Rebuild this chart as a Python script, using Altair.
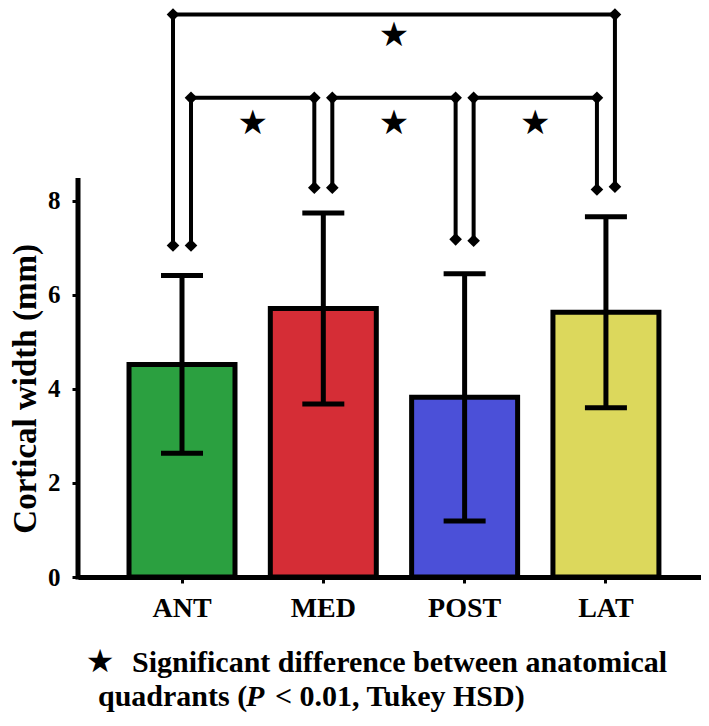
import altair as alt
import pandas as pd

# ---------------- data ----------------
quadrants = ["ANT", "MED", "POST", "LAT"]
mean_width = [4.52, 5.71, 3.82, 5.63]
sd_width = [1.89, 2.03, 2.63, 2.03]
bar_colors = ["#2ba040", "#d52d36", "#4b50d8", "#dcd85c"]

# Tukey HSD comparison brackets
cmp_left = ["ANT", "ANT", "MED", "POST"]
cmp_right = ["LAT", "MED", "POST", "LAT"]
cmp_level = [11.96, 10.19, 10.19, 10.19]
cmp_left_end = [7.05, 7.05, 8.28, 7.15]
cmp_right_end = [8.30, 8.28, 7.18, 8.24]
cmp_outer = [True, False, False, False]
cmp_star_anchor = ["MED", "ANT", "MED", "POST"]
cmp_star_y = [11.51, 9.64, 9.64, 9.64]

y_ticks = [0, 2, 4, 6, 8]
y_max = 12.1
axis_top = 8.43
y_title = "Cortical width (mm)"
y_title_at = 4.0
note_line1 = "Significant difference between anatomical"
note_line2a = "quadrants ("
note_line2b = "P"
note_line2c = "< 0.01, Tukey HSD)"

# ---------------- tables ----------------
bars_df = pd.DataFrame({"quadrant": quadrants, "mean": mean_width, "sd": sd_width})
cmp_df = pd.DataFrame({
    "left": cmp_left, "right": cmp_right, "level": cmp_level,
    "left_end": cmp_left_end, "right_end": cmp_right_end, "outer": cmp_outer,
})
star_df = pd.DataFrame({"anchor": cmp_star_anchor, "y": cmp_star_y, "s": ["★"] * 4})

FONT = "Liberation Serif, Times New Roman, serif"
STAR_FONT = "DejaVu Sans"
W, H = 623, 569
GAP = 9            # px offset of bracket legs from bar centre
HALF_STEP = 70.65  # px, half the band step (stars sit between bars)

x_scale = alt.Scale(domain=quadrants, paddingInner=0.25, paddingOuter=0.3294, align=0.548)
x_axis = alt.Axis(title=None, orient="bottom", labelAngle=0, labelFont=FONT,
                  labelFontWeight="bold", labelFontSize=28, labelColor="black",
                  labelPadding=11, domainColor="black", domainWidth=5,
                  tickColor="black", tickWidth=3, tickSize=6, grid=False)
y_scale = alt.Scale(domain=[0, y_max], nice=False, zero=True)
y_axis = alt.Axis(title=None, orient="left", values=y_ticks, domain=False, grid=False,
                  tickColor="black", tickWidth=3, tickSize=6, labelFont=FONT,
                  labelFontWeight="bold", labelFontSize=25, labelColor="black",
                  labelPadding=12)


def X(f):
    return alt.X(f"{f}:N", scale=x_scale, axis=x_axis)


def Y(f):
    return alt.Y(f"{f}:Q", scale=y_scale, axis=y_axis)


bars = alt.Chart(bars_df).mark_bar(stroke="black", strokeWidth=5).encode(
    x=X("quadrant"), y=Y("mean"),
    color=alt.Color("quadrant:N", scale=alt.Scale(domain=quadrants, range=bar_colors), legend=None),
)

err_base = alt.Chart(bars_df).transform_calculate(
    lo="datum.mean - datum.sd", hi="datum.mean + datum.sd")
err_rule = err_base.mark_rule(color="black", strokeWidth=5).encode(
    x=X("quadrant"), y=Y("lo"), y2="hi:Q")
err_caps = err_base.transform_fold(["lo", "hi"]).mark_tick(
    color="black", thickness=5, size=42, opacity=1).encode(x=X("quadrant"), y=Y("value"))

axis_df = pd.DataFrame({"y0": [0.0], "y1": [axis_top]})
y_line = alt.Chart(axis_df).mark_rule(color="black", strokeWidth=5, strokeCap="square").encode(
    x=alt.value(0), y=Y("y0"), y2="y1:Q")


def bracket_layers(data, lo_off, ro_off):
    base = alt.Chart(data)
    rule = dict(color="black", strokeWidth=4)
    dia = dict(shape="diamond", filled=True, size=160, color="black", opacity=1)
    return [
        base.mark_rule(xOffset=lo_off, x2Offset=ro_off, **rule).encode(
            x=X("left"), x2="right:N", y=Y("level")),
        base.mark_rule(xOffset=lo_off, **rule).encode(x=X("left"), y=Y("level"), y2="left_end:Q"),
        base.mark_rule(xOffset=ro_off, **rule).encode(x=X("right"), y=Y("level"), y2="right_end:Q"),
        base.mark_point(xOffset=lo_off, **dia).encode(x=X("left"), y=Y("level")),
        base.mark_point(xOffset=lo_off, **dia).encode(x=X("left"), y=Y("left_end")),
        base.mark_point(xOffset=ro_off, **dia).encode(x=X("right"), y=Y("level")),
        base.mark_point(xOffset=ro_off, **dia).encode(x=X("right"), y=Y("right_end")),
    ]


outer_layers = bracket_layers(cmp_df[cmp_df["outer"]], -GAP, GAP)
inner_layers = bracket_layers(cmp_df[~cmp_df["outer"]], GAP, -GAP)

stars = alt.Chart(star_df).mark_text(
    font=STAR_FONT, fontSize=34, color="black", dx=HALF_STEP, baseline="middle"
).encode(x=X("anchor"), y=Y("y"), text="s:N")

ann_df = pd.DataFrame({
    "t": [y_title, "★", note_line1, note_line2a, note_line2b, note_line2c],
})

title_txt = alt.Chart(ann_df.iloc[[0]]).mark_text(
    angle=270, font=FONT, fontWeight="bold", fontSize=33, color="black", baseline="middle"
).encode(x=alt.value(-52), y=alt.value(H - y_title_at * H / y_max), text="t:N")

note_star = alt.Chart(ann_df.iloc[[1]]).mark_text(
    font=STAR_FONT, fontSize=32, color="black", baseline="middle"
).encode(x=alt.value(22), y=alt.value(654), text="t:N")

note_style = dict(font=FONT, fontWeight="bold", fontSize=30, color="black",
                  align="left", baseline="alphabetic")
note1 = alt.Chart(ann_df.iloc[[2]]).mark_text(**note_style).encode(
    x=alt.value(54), y=alt.value(664), text="t:N")
note2a = alt.Chart(ann_df.iloc[[3]]).mark_text(**note_style).encode(
    x=alt.value(20), y=alt.value(698), text="t:N")
note2b = alt.Chart(ann_df.iloc[[4]]).mark_text(fontStyle="italic", **note_style).encode(
    x=alt.value(168), y=alt.value(698), text="t:N")
note2c = alt.Chart(ann_df.iloc[[5]]).mark_text(**note_style).encode(
    x=alt.value(197), y=alt.value(698), text="t:N")

chart = alt.layer(
    bars, err_rule, err_caps, y_line, *outer_layers, *inner_layers, stars,
    title_txt, note_star, note1, note2a, note2b, note2c,
).properties(
    width=W, height=H,
    autosize=alt.AutoSizeParams(type="none"),
    padding={"left": 70, "top": 0, "right": 0, "bottom": 137},
    background="white",
).configure_view(stroke=None)

chart.save("out.html", embed_options={"renderer": "svg", "actions": False})
